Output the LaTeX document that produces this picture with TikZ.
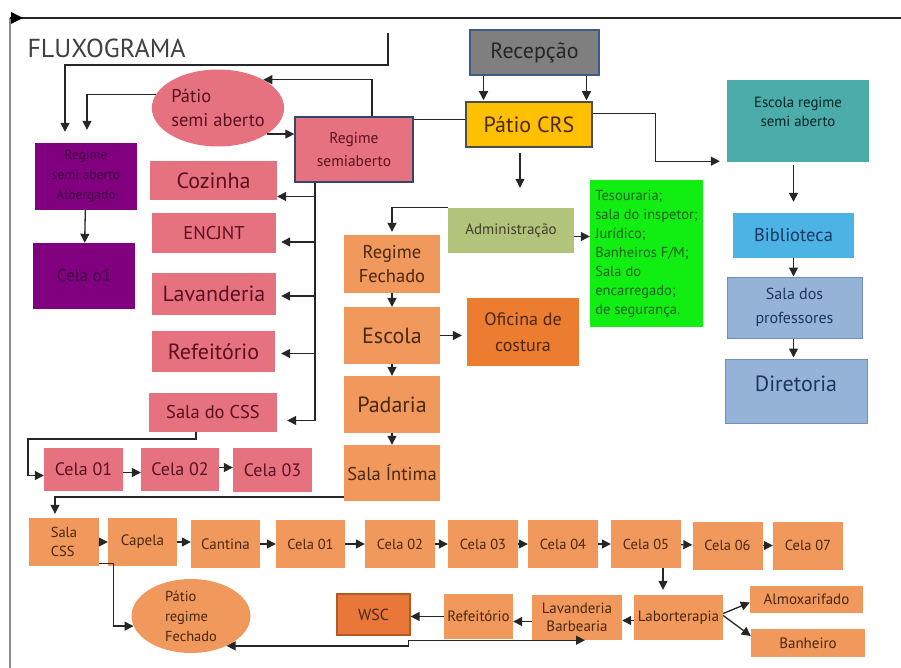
\documentclass[tikz,border=0pt]{standalone}
\usepackage{fontspec}
\setmainfont{PT Sans}
\usetikzlibrary{arrows.meta,shapes.geometric,calc}
\definecolor{pinkc}{HTML}{E7727F}
\definecolor{pinktx}{HTML}{5A1020}
\definecolor{purc}{HTML}{800080}
\definecolor{purtx}{HTML}{420042}
\definecolor{orc}{HTML}{F1985C}
\definecolor{ortx}{HTML}{4A2810}
\definecolor{ofcc}{HTML}{EC7C30}
\definecolor{wscc}{HTML}{E9773A}
\definecolor{wscb}{HTML}{B35A22}
\definecolor{grayc}{HTML}{7F7F7F}
\definecolor{bordc}{HTML}{3F5A85}
\definecolor{goldc}{HTML}{FFC000}
\definecolor{tealc}{HTML}{4BACAA}
\definecolor{bibc}{HTML}{4CB4E4}
\definecolor{lbc}{HTML}{95B3D7}
\definecolor{lbb}{HTML}{6F8FC0}
\definecolor{grc}{HTML}{11EE11}
\definecolor{grtx}{HTML}{1A5E1A}
\definecolor{admc}{HTML}{B2C47B}
\definecolor{bluetx}{HTML}{1F3560}
\newcommand\fsz[2]{\fontsize{#1}{#2}\selectfont}
\newcommand\upby[2]{\raisebox{#1}[0pt][0pt]{\begin{tabular}{@{}c@{}}#2\end{tabular}}}
\tikzset{
  box/.style={rectangle, inner sep=0pt, align=center},
  pinkb/.style={box, fill=pinkc, text=pinktx},
  purb/.style={box, fill=purc, text=purtx},
  orb/.style={box, fill=orc, text=ortx},
  arr/.style={-{Triangle[length=9pt,width=9pt]}, line width=1.3pt, draw=black!85},
  dblarr/.style={{Triangle[length=9pt,width=9pt]}-{Triangle[length=9pt,width=9pt]}, line width=1.3pt, draw=black!85},
  plain/.style={line width=1.3pt, draw=black!85},
}
\begin{document}
\begin{tikzpicture}[x=1pt,y=-1pt]
\useasboundingbox[fill=white] (0,0) rectangle (901,668);
% frame
\coordinate (fbl) at (10,668);
\coordinate (ftl) at (10,18);
\coordinate (ftr) at (901,18);
\draw[line width=1.3pt, draw=black!45] (fbl) -- (ftl);
\draw[line width=1.3pt, draw=black!85] (ftl) -- (ftr);
\fill[black] (11,12) -- (23,18) -- (11,24) -- cycle;
\node[anchor=west, text=black!75, font=\fsz{26}{30}] (title) at (24,48) {FLUXOGRAMA};

% top nodes
\node[box, fill=grayc, draw=bordc, line width=1.5pt, text=black!85, minimum width=129pt, minimum height=45pt, font=\fsz{22}{26}] (rec) at (534.5,52.5) {Recepção};
\node[box, fill=goldc, draw=black!70, line width=1.5pt, text=ortx, minimum width=126pt, minimum height=45pt, font=\fsz{22}{26}] (pcrs) at (529,124.5) {Pátio CRS};
\node[pinkb, draw=bordc!80!black, line width=1.5pt, minimum width=118pt, minimum height=65pt, font=\fsz{15.5}{23}] (rsa) at (354,149.5) {Regime\\semiaberto};
\node[ellipse, fill=pinkc, text=pinktx, inner sep=0pt, minimum width=130pt, minimum height=77pt, align=left, font=\fsz{18.5}{24}] (psa) at (218,108) {Pátio\\semi aberto};

\node[purb, minimum width=102pt, minimum height=67pt, font=\fsz{13.5}{20}] (alb) at (86,176.5) {Regime\\semi aberto\\Albergado};
\node[purb, minimum width=102pt, minimum height=66pt, font=\fsz{17}{20}] (celp) at (84,276) {Cela o1};

\node[pinkb, minimum width=127pt, minimum height=39pt, font=\fsz{22}{26}] (coz) at (213.5,180.5) {Cozinha};
\node[pinkb, minimum width=124pt, minimum height=40pt, font=\fsz{18.5}{22}] (enc) at (214,233) {ENCJNT};
\node[pinkb, minimum width=124pt, minimum height=42pt, font=\fsz{22}{26}] (lav) at (214,294) {Lavanderia};
\node[pinkb, minimum width=123pt, minimum height=41pt, font=\fsz{22}{26}] (ref) at (213.5,351.5) {Refeitório};
\node[pinkb, minimum width=128pt, minimum height=39pt, font=\fsz{18.5}{22}] (scss) at (213,412.5) {Sala do CSS};
\node[pinkb, minimum width=79pt, minimum height=43pt, font=\fsz{18}{22}] (c01) at (83.5,469.5) {Cela 01};
\node[pinkb, minimum width=78pt, minimum height=43pt, font=\fsz{18}{22}] (c02) at (180,469.5) {Cela 02};
\node[pinkb, minimum width=79pt, minimum height=44pt, font=\fsz{18}{22}] (c03) at (272.5,470) {Cela 03};

\node[orb, minimum width=96pt, minimum height=58pt, font=\fsz{18.5}{24}] (rfe) at (392,264) {Regime\\Fechado};
\node[orb, minimum width=96pt, minimum height=57pt, font=\fsz{22}{26}] (esc) at (392,335.5) {Escola};
\node[orb, minimum width=96pt, minimum height=57pt, font=\fsz{22}{26}] (pad) at (392,404.5) {Padaria};
\node[orb, minimum width=96pt, minimum height=56pt, font=\fsz{18.5}{22}] (sint) at (392,473) {Sala Íntima};

\node[box, fill=admc, text=black!70!olive, minimum width=126pt, minimum height=45pt, font=\fsz{15}{18}] (adm) at (511,230.5) {Administração};
\node[box, fill=grc, text=grtx, minimum width=113pt, minimum height=147pt, align=left, font=\fsz{14.5}{19}] (grn) at (646.5,253.5) {Tesouraria;\\sala do inspetor;\\Jurídico;\\Banheiros F/M;\\Sala do\\encarregado;\\de segurança.};
\node[box, fill=ofcc, text=ortx, minimum width=112pt, minimum height=68pt, font=\fsz{18}{26}] (ofc) at (523,332) {Oficina de\\costura};

\node[box, fill=tealc, text=black!70!teal, minimum width=142pt, minimum height=82pt, font=\fsz{14.8}{19}] (esa) at (798,121) {\upby{4pt}{Escola regime\\semi aberto}};
\node[box, fill=bibc, text=bluetx, minimum width=121pt, minimum height=45pt, font=\fsz{18.5}{22}] (bib) at (793.5,235.5) {Biblioteca};
\node[box, fill=lbc, draw=lbb, line width=1pt, text=bluetx, minimum width=135pt, minimum height=61pt, font=\fsz{16}{24}] (sdp) at (794.5,307.5) {Sala dos\\professores};
\node[box, fill=lbc, draw=lbb, line width=1pt, text=bluetx, minimum width=142pt, minimum height=64pt, font=\fsz{22}{26}] (dir) at (796,391) {\upby{0pt}{Diretoria}};

% bottom row
\node[orb, minimum width=70pt, minimum height=48pt, align=left, font=\fsz{14.5}{19}] (bscss) at (64,542) {Sala\\CSS};
\node[orb, minimum width=69pt, minimum height=48pt, font=\fsz{15}{18}] (cap) at (142.5,542) {Capela};
\node[orb, minimum width=69pt, minimum height=48pt, font=\fsz{15}{18}] (cant) at (225.5,544) {Cantina};
\node[orb, minimum width=69pt, minimum height=48pt, font=\fsz{14.5}{18}] (b01) at (310.5,544) {Cela 01};
\node[orb, minimum width=70pt, minimum height=48pt, font=\fsz{14.5}{18}] (b02) at (400,544) {Cela 02};
\node[orb, minimum width=70pt, minimum height=48pt, font=\fsz{14.5}{18}] (b03) at (483,544) {Cela 03};
\node[orb, minimum width=70pt, minimum height=48pt, font=\fsz{14.5}{18}] (b04) at (563,544) {Cela 04};
\node[orb, minimum width=70pt, minimum height=48pt, font=\fsz{14.5}{18}] (b05) at (646,544) {Cela 05};
\node[orb, minimum width=70pt, minimum height=48pt, font=\fsz{14.5}{18}] (b06) at (727.5,545.5) {Cela 06};
\node[orb, minimum width=70pt, minimum height=48pt, font=\fsz{14.5}{18}] (b07) at (808,545.5) {Cela 07};

\node[orb, minimum width=89pt, minimum height=45pt, font=\fsz{15}{18}] (lab) at (678.5,617.5) {Laborterapia};
\node[orb, minimum width=90pt, minimum height=45pt, font=\fsz{15}{18}] (lavb) at (577,617.5) {Lavanderia\\Barbearia};
\node[orb, minimum width=69pt, minimum height=45pt, font=\fsz{15}{18}] (bref) at (478.5,616.5) {Refeitório};
\node[box, fill=wscc, draw=wscb, line width=1.2pt, text=ortx, minimum width=73pt, minimum height=41pt, font=\fsz{16}{18}] (wsc) at (373.5,614.5) {WSC};
\node[orb, minimum width=113pt, minimum height=27pt, font=\fsz{15}{18}] (alm) at (806.5,599.5) {Almoxarifado};
\node[orb, minimum width=114pt, minimum height=28pt, font=\fsz{15}{18}] (ban) at (808,643) {Banheiro};
\node[ellipse, fill=orc, text=ortx, inner sep=0pt, minimum width=119pt, minimum height=74pt, align=left, font=\fsz{14.5}{20}] (prf) at (191,616) {Pátio\\regime\\Fechado};

% connectors top-left
\coordinate (tp) at (388,33);
\draw[arr] (tp) -- ++(0,32) -| ([xshift=-21pt,yshift=11pt]alb.north);
\draw[arr] (psa.168) -| ([xshift=1pt,yshift=13pt]alb.north);
\draw[arr] ([xshift=18pt]rsa.north) |- (psa.32);
\draw[arr] (psa.-28) -- (psa.-28 -| rsa.west);
\draw[plain] ([yshift=-3pt]rsa.north east) -- ([yshift=-3pt]rsa.north east -| pcrs.west);
\draw[arr] (alb) -- (celp);

% vertical bus from Regime semiaberto
\coordinate (vb) at ([xshift=-39pt]rsa.south);
\coordinate (cozin) at ([yshift=-16pt]coz.east);
\coordinate (encin) at ([yshift=-9pt]enc.east);
\coordinate (lavin) at ([yshift=-2pt]lav.east);
\coordinate (refin) at ([yshift=-2pt]ref.east);
\coordinate (scssin) at ([yshift=-8pt]scss.east);
\draw[plain] (vb) -- (vb |- scssin);
\draw[arr] (vb |- cozin) -- (cozin);
\draw[arr, shorten >=5pt] (vb |- encin) -- (encin);
\draw[arr, shorten >=5pt] (vb |- lavin) -- (lavin);
\draw[arr, shorten >=6pt] (vb |- refin) -- (refin);
\draw[arr, shorten >=10pt] (vb |- scssin) -- (scssin);

% Sala do CSS to cells
\coordinate (lc) at (28,439);
\draw[arr] ([xshift=-17pt]scss.south) |- (lc) |- ([yshift=-6pt]c01.west);
\draw[arr] ([yshift=-3pt]c01.east) -- ([yshift=-3pt]c01.east -| c02.west);
\draw[arr] ([yshift=2pt]c02.east) -- ([yshift=2pt]c02.east -| c03.west);

% orange column
\draw[arr] (rfe) -- (esc);
\draw[arr] (esc) -- (pad);
\draw[arr] (pad) -- (sint);
\draw[arr] (adm.north west) -| ([yshift=3pt]rfe.north);
\draw[arr, shorten <=5pt, shorten >=20pt] ([xshift=-9pt]pcrs.south) -- ([xshift=-9pt]pcrs.south |- adm.north);
\draw[arr] ([yshift=-6pt]adm.east) -- ([yshift=-6pt]adm.east -| grn.west);
\draw[arr, shorten >=5pt] (esc.east) -- (esc.east -| ofc.west);
\draw[arr] ([yshift=-24pt]sint.west) -| ([xshift=-9pt,yshift=4pt]bscss.north);

% reception
\draw[arr, shorten >=1pt] ([xshift=-51pt]rec.south) -- ([xshift=-51pt]rec.south |- pcrs.north);
\draw[arr, shorten >=1pt] ([xshift=52pt]rec.south) -- ([xshift=52pt]rec.south |- pcrs.north);
\coordinate (esain) at ([yshift=1pt]esa.south west);
\draw[arr, shorten >=7pt] ([yshift=11pt]pcrs.east) -- ++(63,0) |- (esain);
\draw[arr, shorten <=3pt, shorten >=11pt] (bib.north |- esa.south) -- (bib.north);
\draw[arr] (bib.south) -- (bib.south |- sdp.north);
\coordinate (sdpout) at (sdp.south -| bib.south);
\draw[arr, shorten >=1pt] (sdpout) -- (sdpout |- dir.north);

% bottom row arrows
\draw[arr] (bscss) -- (cap);
\draw[arr] (cap.east) -- (cap.east -| cant.west);
\draw[arr] (cant) -- (b01);
\draw[arr] (b01) -- (b02);
\draw[arr] (b02) -- (b03);
\draw[arr] (b03) -- (b04);
\draw[arr] (b04) -- (b05);
\draw[arr] (b05) -- (b06);
\draw[arr] (b06) -- (b07);
\draw[arr, shorten >=5pt] ([xshift=17pt]b05.south) -- ([xshift=17pt]b05.south |- lab.north);
\draw[arr] ([yshift=-3pt]lab.west) -- ([yshift=-3pt]lab.west -| lavb.east);
\draw[arr] ([yshift=-4pt]lavb.west) -- ([yshift=-4pt]lavb.west -| bref.east);
\draw[arr] (bref.west) -- (bref.west -| wsc.east);
\draw[arr] ([yshift=4pt]lab.east) -- ([yshift=-3pt]alm.west);
\draw[arr] ([yshift=2pt]lab.east) -- ([yshift=7pt]ban.west);
\coordinate (lvb) at ([xshift=8pt]lavb.south);
\coordinate (wsc2) at ([xshift=-2pt]wsc.south east);
\draw[dblarr] (lvb) -- (lvb -| wsc2) -- (wsc2 |- prf.-40) -- (prf.-40);
\draw[arr] ([yshift=3pt]bscss.south east) -- ++(14,0) |- (prf.190);
\end{tikzpicture}
\end{document}
